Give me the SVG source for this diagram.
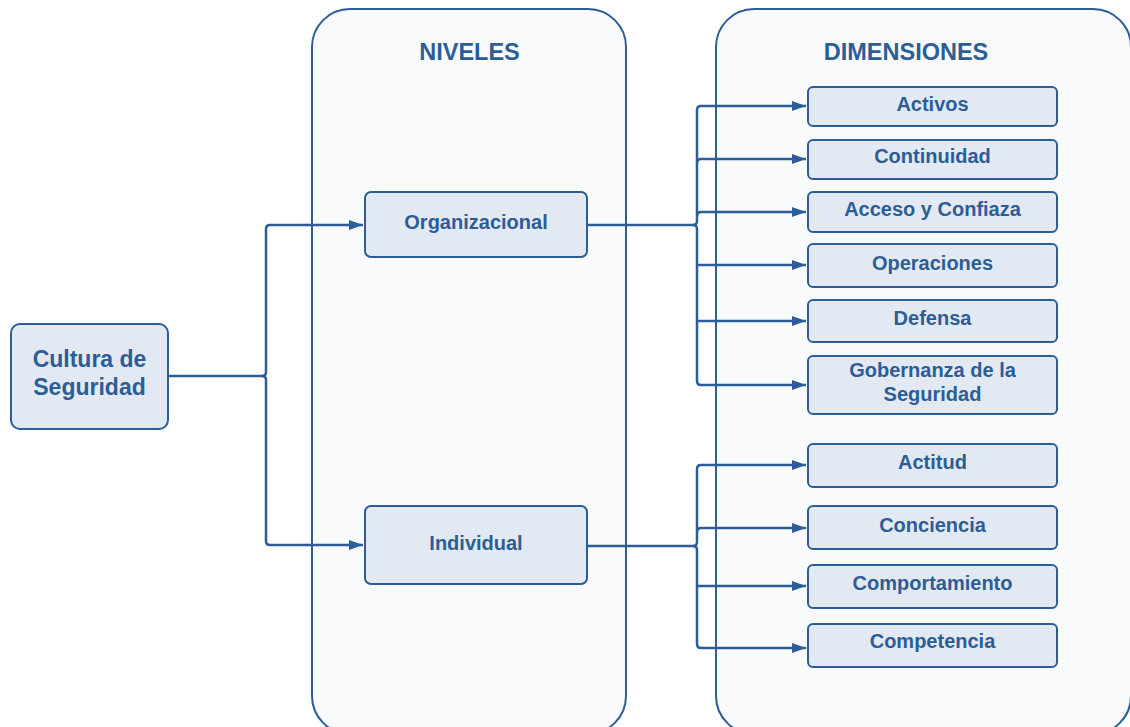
<svg xmlns="http://www.w3.org/2000/svg" width="1130" height="727" viewBox="0 0 1130 727">
<defs>
<marker id="arr" markerWidth="16" markerHeight="12" refX="14" refY="6" orient="auto" markerUnits="userSpaceOnUse">
<path d="M0,1 L14,6 L0,11 Z" fill="#2c5d97"/>
</marker>
<style>
.cont{fill:#f8fafc;stroke:#2c5d97;stroke-width:2}
.box{fill:#e3e9f2;stroke:#2c5d97;stroke-width:2}
.t{font-family:"Liberation Sans",Arial,sans-serif;font-weight:bold;fill:#2c5d97;text-anchor:middle}
.h{font-size:23.5px}
.m{font-size:20px}
.l{font-size:23px}
.c{fill:none;stroke:#2c5d97;stroke-width:2.5;stroke-linejoin:round}
</style>
</defs>
<rect width="1130" height="727" fill="#ffffff"/>
<g id="niveles">
<rect class="cont" x="312" y="9" width="314" height="725" rx="38"/>
<text class="t h" x="469.5" y="60">NIVELES</text>
</g>
<g id="dimensiones">
<rect class="cont" x="716" y="9" width="415" height="725" rx="38"/>
<text class="t h" x="906" y="60">DIMENSIONES</text>
</g>
<g id="connectors">
<path class="c" d="M168,376 H262 Q266,376 266,372 V229 Q266,225 270,225 H363" marker-end="url(#arr)"/>
<path class="c" d="M262,376 Q266,376 266,380 V541 Q266,545 270,545 H363" marker-end="url(#arr)"/>
<path class="c" d="M587,225 H693 Q697,225 697,221 V110 Q697,106 701,106 H806" marker-end="url(#arr)"/>
<path class="c" d="M697,163 Q697,159 701,159 H806" marker-end="url(#arr)"/>
<path class="c" d="M697,216 Q697,212 701,212 H806" marker-end="url(#arr)"/>
<path class="c" d="M693,225 Q697,225 697,229 V381 Q697,385 701,385 H806" marker-end="url(#arr)"/>
<path class="c" d="M697,265 H806" marker-end="url(#arr)"/>
<path class="c" d="M697,321 H806" marker-end="url(#arr)"/>
<path class="c" d="M587,546 H693 Q697,546 697,542 V469 Q697,465 701,465 H806" marker-end="url(#arr)"/>
<path class="c" d="M697,532 Q697,528 701,528 H806" marker-end="url(#arr)"/>
<path class="c" d="M693,546 Q697,546 697,550 V644 Q697,648 701,648 H806" marker-end="url(#arr)"/>
<path class="c" d="M697,586 H806" marker-end="url(#arr)"/>
</g>
<g id="cultura">
<rect class="box" x="11" y="324" width="157" height="105" rx="9"/>
<text class="t l" x="89.5" y="367">Cultura de</text>
<text class="t l" x="89.5" y="395">Seguridad</text>
</g>
<g id="organizacional">
<rect class="box" x="365" y="192" width="222" height="65" rx="6"/>
<text class="t m" x="476" y="229">Organizacional</text>
</g>
<g id="individual">
<rect class="box" x="365" y="506" width="222" height="78" rx="6"/>
<text class="t m" x="476" y="550">Individual</text>
</g>
<g id="activos">
<rect class="box" x="808" y="87" width="249" height="39" rx="5"/>
<text class="t m" x="932.5" y="111">Activos</text>
</g>
<g id="continuidad">
<rect class="box" x="808" y="140" width="249" height="39" rx="5"/>
<text class="t m" x="932.5" y="163">Continuidad</text>
</g>
<g id="acceso">
<rect class="box" x="808" y="192" width="249" height="40" rx="5"/>
<text class="t m" x="932.5" y="216">Acceso y Confiaza</text>
</g>
<g id="operaciones">
<rect class="box" x="808" y="244" width="249" height="43" rx="5"/>
<text class="t m" x="932.5" y="270">Operaciones</text>
</g>
<g id="defensa">
<rect class="box" x="808" y="300" width="249" height="42" rx="5"/>
<text class="t m" x="932.5" y="325">Defensa</text>
</g>
<g id="gobernanza">
<rect class="box" x="808" y="356" width="249" height="58" rx="5"/>
<text class="t m" x="932.5" y="377">Gobernanza de la</text>
<text class="t m" x="932.5" y="401">Seguridad</text>
</g>
<g id="actitud">
<rect class="box" x="808" y="444" width="249" height="43" rx="5"/>
<text class="t m" x="932.5" y="469">Actitud</text>
</g>
<g id="conciencia">
<rect class="box" x="808" y="506" width="249" height="43" rx="5"/>
<text class="t m" x="932.5" y="532">Conciencia</text>
</g>
<g id="comportamiento">
<rect class="box" x="808" y="565" width="249" height="43" rx="5"/>
<text class="t m" x="932.5" y="590">Comportamiento</text>
</g>
<g id="competencia">
<rect class="box" x="808" y="624" width="249" height="43" rx="5"/>
<text class="t m" x="932.5" y="648">Competencia</text>
</g>
</svg>
